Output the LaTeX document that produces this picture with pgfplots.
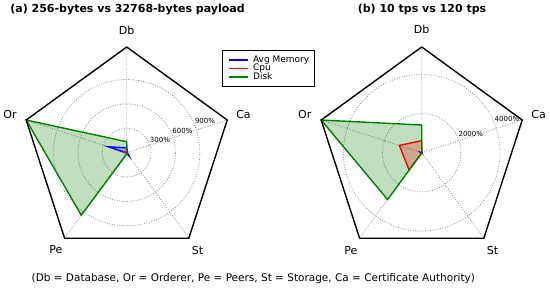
\documentclass[border=0pt]{standalone}
\usepackage{fontspec}
\setmainfont{DejaVu Sans}
\usepackage{pgfplots}
\usepackage{pgfplotstable}
\pgfplotsset{compat=1.18}
\usepgfplotslibrary{polar}

\definecolor{mplgreen}{rgb}{0,0.5,0}

% spokes: Db 90, Or 162, Pe 234, St 306, Ca 18 (first row repeated to close)
\pgfplotstableread{
angle mem cpu disk
90  60  10  135
162 235 30  1300
234 5   10  950
306 50  5   10
18  10  5   5
90  60  10  135
}\payload

\pgfplotstableread{
angle mem cpu disk
90  20  615  1415
162 80  1200 5400
234 20  1095 2960
306 40  10   5
18  20  10   5
90  20  615  1415
}\tps

\pgfplotsset{
  radar/.style={
    scale only axis, width=211.4pt, height=211.4pt, anchor=center,
    xtick={18,90,162,234,306}, xticklabels={}, yticklabels={},
    ymin=0, grid=major,
    major grid style={gray!85, dash pattern=on 0.9pt off 1.6pt, line width=0.8pt},
    axis line style={draw=none}, major tick length=0pt, clip=false},
}
\newcommand\lab{\fontsize{11}{13}\selectfont}
\newcommand\rlab{\fontsize{7}{8}\selectfont}

\begin{document}
\begin{tikzpicture}
\useasboundingbox (0pt,0pt) rectangle (550pt,288pt);
\coordinate (ca) at (126.7pt,135.3pt);
\coordinate (cb) at (421.7pt,135.3pt);

\begin{polaraxis}[radar, at={(ca)}, ymax=1300, ytick={300,600,900},
  legend style={at={(0.951,0.986)}, anchor=north west, draw=black, line width=0.9pt,
    font=\fontsize{9}{9}\selectfont, inner xsep=5.5pt, inner ysep=5.5pt, row sep=0pt,
    column sep=4.5pt,
    nodes={inner sep=0pt, anchor=west, text height=6.4pt, text depth=2.1pt}},
  legend image code/.code={\draw[#1, line width=1.6pt] (0pt,0.3pt) -- (19pt,0.3pt);}]
\addplot[draw=none, fill=mplgreen, fill opacity=0.25, forget plot] table[x=angle, y=disk] {\payload};
\addplot[draw=none, fill=red, fill opacity=0.25, forget plot] table[x=angle, y=cpu] {\payload};
\addplot[draw=none, fill=blue, fill opacity=0.25, forget plot] table[x=angle, y=mem] {\payload};
\addplot[line width=1.4pt, blue] table[x=angle, y=mem] {\payload};
\addplot[line width=1.4pt, red] table[x=angle, y=cpu] {\payload};
\addplot[line width=1.4pt, mplgreen] table[x=angle, y=disk] {\payload};
\addplot[black, line width=1.4pt, forget plot] coordinates {(90,1300) (162,1300) (234,1300) (306,1300) (18,1300) (90,1300)};
\legend{Avg Memory, Cpu, Disk}
\node at (axis cs:90,1510) {\lab Db};
\node at (axis cs:18,1510) {\lab Ca};
\node at (axis cs:306,1480) {\lab St};
\node at (axis cs:234,1480) {\lab Pe};
\node at (axis cs:162,1510) {\lab Or};
\node[anchor=south west, inner sep=0.5pt] at (axis cs:22.5,300) {\rlab 300\%};
\node[anchor=south west, inner sep=0.5pt] at (axis cs:22.5,600) {\rlab 600\%};
\node[anchor=south west, inner sep=0.5pt] at (axis cs:22.5,900) {\rlab 900\%};
\end{polaraxis}

\begin{polaraxis}[radar, at={(cb)}, ymax=5400, ytick={2000,4000}]
\addplot[draw=none, fill=mplgreen, fill opacity=0.25] table[x=angle, y=disk] {\tps};
\addplot[draw=none, fill=red, fill opacity=0.25] table[x=angle, y=cpu] {\tps};
\addplot[draw=none, fill=blue, fill opacity=0.25] table[x=angle, y=mem] {\tps};
\addplot[line width=1.4pt, blue] table[x=angle, y=mem] {\tps};
\addplot[line width=1.4pt, red] table[x=angle, y=cpu] {\tps};
\addplot[line width=1.4pt, mplgreen] table[x=angle, y=disk] {\tps};
\addplot[black, line width=1.4pt] coordinates {(90,5400) (162,5400) (234,5400) (306,5400) (18,5400) (90,5400)};
\node at (axis cs:90,6280) {\lab Db};
\node at (axis cs:18,6280) {\lab Ca};
\node at (axis cs:306,6160) {\lab St};
\node at (axis cs:234,6160) {\lab Pe};
\node at (axis cs:162,6280) {\lab Or};
\node[anchor=south west, inner sep=0.5pt] at (axis cs:22.5,2000) {\rlab 2000\%};
\node[anchor=south west, inner sep=0.5pt] at (axis cs:22.5,4000) {\rlab 4000\%};
\end{polaraxis}

\node at (127.5pt,278.7pt) {\bfseries\fontsize{11}{13}\selectfont (a) 256-bytes vs 32768-bytes payload};
\node at (422pt,278.7pt) {\bfseries\fontsize{11}{13}\selectfont (b) 10 tps vs 120 tps};
\node at (253.3pt,9.7pt) {\fontsize{10.5}{12}\selectfont (Db = Database, Or = Orderer, Pe = Peers, St = Storage, Ca = Certificate Authority)};
\end{tikzpicture}
\end{document}
